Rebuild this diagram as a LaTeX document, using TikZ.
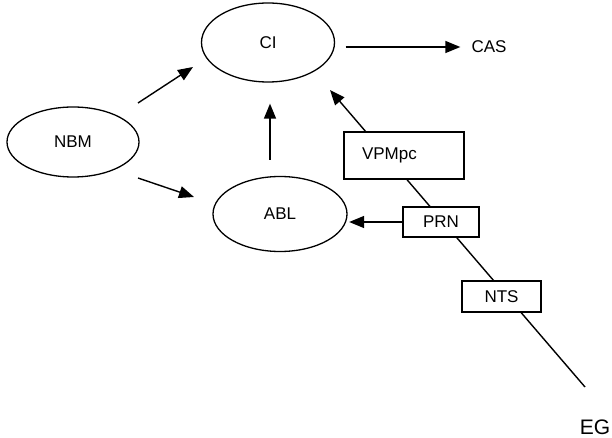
\documentclass[tikz,border=0pt]{standalone}
\usepackage{fontspec}
\setmainfont{Liberation Sans}
\usetikzlibrary{arrows.meta,shapes.geometric}
\begin{document}
\begin{tikzpicture}[x=1pt,y=-1pt,
  every node/.style={font=\fontsize{17}{20}\selectfont},
  oval/.style={draw, ellipse, line width=1.3pt, inner sep=0pt},
  tag/.style={draw, rectangle, line width=1.3pt, fill=white, inner sep=0pt},
  lbl/.style={inner sep=0pt},
  arr/.style={line width=1.4pt, -{Triangle[length=15pt,width=12pt]}}]
  \useasboundingbox (0,0) rectangle (612,438);

  % concepts
  \node[oval, minimum width=133pt, minimum height=79pt] (CI) at (268,42.5) {CI};
  \node[oval, minimum width=132pt, minimum height=70pt] (NBM) at (73,142) {NBM};
  \node[oval, minimum width=134pt, minimum height=75pt] (ABL) at (280,214) {ABL};
  \node[lbl] (CAS) at (489,47) {CAS};
  \node[lbl, font=\fontsize{21}{25}\selectfont] (EG) at (595,427) {EG};
  \coordinate (tail) at (585,387);

  % links between the concepts
  \draw[arr] ([shift={(10.5,4.5)}]CI.east) -- ([xshift=-11pt]CAS.west);
  \draw[arr] ([shift={(65,-39)}]NBM.center) -- ([shift={(-75,24.5)}]CI.center);
  \draw[arr] ([shift={(65,36)}]NBM.center) -- ([shift={(-86,-17)}]ABL.center);
  \draw[arr] ([shift={(-10,-16)}]ABL.north) -- ([shift={(2,21)}]CI.south);

  % the long diagonal, drawn beneath its boxes
  \draw[arr] (tail) -- ([shift={(62,47.5)}]CI.center);

  \node[tag, minimum height=47pt, text width=84pt, inner xsep=18pt, align=left] (VPM) at (404,155.5) {VPMpc};
  \node[tag, minimum width=76pt, minimum height=30pt] (PRN) at (441,222) {PRN};
  \node[tag, minimum width=79pt, minimum height=31pt] (NTS) at (501.5,296.5) {NTS};

  \draw[arr, shorten >=1.5pt] (PRN.west) -- (PRN.west -| ABL.east);
\end{tikzpicture}
\end{document}
